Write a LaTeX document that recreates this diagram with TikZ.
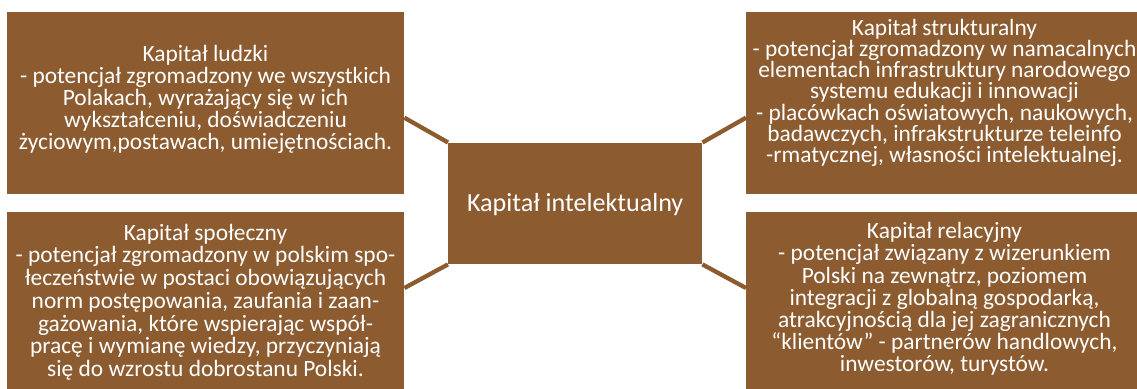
\documentclass[tikz,border=0pt]{standalone}
\usepackage{fontspec}
\setmainfont{Carlito}
\usetikzlibrary{calc}
\definecolor{kbrown}{RGB}{140,91,48}
\tikzset{
  box/.style={rectangle, fill=kbrown, draw=none, inner sep=0pt, anchor=north west},
  side/.style={text=white, align=center, inner sep=0pt, anchor=north,
    font={\fontsize{23.4pt}{#1}\selectfont\lineskiplimit=-100pt\lineskip=0pt}},
  side/.default=22.1pt,
  link/.style={draw=kbrown, line width=4.3pt},
}
\begin{document}
\begin{tikzpicture}[x=1pt,y=-1pt]
\useasboundingbox (0,0) rectangle (1137,388);
\clip (0,0) rectangle (1137,388);
% boxes
\node[box, minimum width=397pt, minimum height=182pt] (tl) at (7,12) {};
\node[box, minimum width=397pt, minimum height=182pt] (bl) at (7,212) {};
\node[box, minimum width=397pt, minimum height=182pt] (tr) at (746,12) {};
\node[box, minimum width=397pt, minimum height=182pt] (br) at (746,212) {};
\node[box, minimum width=254pt, minimum height=121.5pt] (ci) at (448,142.5) {};
% connectors
\draw[link] ($(tl.north east)+(0,105.7)$) -- (ci.north west);
\draw[link] ($(bl.north east)+(0,76)$) -- (ci.south west);
\draw[link] ($(tr.north west)+(0,105.7)$) -- (ci.north east);
\draw[link] ($(br.north west)+(0,76)$) -- (ci.south east);
% texts
\node[text=white, inner sep=0pt, font={\fontsize{26.1pt}{30pt}\selectfont}] (cit) at ($(ci.center)+(0,1.5)$) {Kapitał intelektualny};
\node[side=22pt] (tlt) at (205.5,41.5) {\rule{0pt}{20pt}Kapitał ludzki\\
- potencjał zgromadzony we wszystkich\\
Polakach, wyrażający się w ich\\
wykształceniu, doświadczeniu\\
życiowym,postawach, umiejętnościach.};
\node[side=21.2pt] (trt) at (944.5,15) {\rule{0pt}{20pt}Kapitał strukturalny\\
- potencjał zgromadzony w namacalnych\\
elementach infrastruktury narodowego\\
systemu edukacji i innowacji\\
- placówkach oświatowych, naukowych,\\
badawczych, infrakstrukturze teleinfo\\
-rmatycznej, własności intelektualnej.};
\node[side=22.7pt] (blt) at (205.5,220) {\rule{0pt}{20pt}Kapitał społeczny\\
- potencjał zgromadzony w polskim spo-\\
łeczeństwie w postaci obowiązujących\\
norm postępowania, zaufania i zaan-\\
gażowania, które wspierając współ-\\
pracę i wymianę wiedzy, przyczyniają\\
się do wzrostu dobrostanu Polski.};
\node[side=22.2pt] (brt) at (944.5,218.5) {\rule{0pt}{20pt}Kapitał relacyjny\\
- potencjał związany z wizerunkiem\\
Polski na zewnątrz, poziomem\\
integracji z globalną gospodarką,\\
atrakcyjnością dla jej zagranicznych\\
“klientów” - partnerów handlowych,\\
inwestorów, turystów.};
\end{tikzpicture}
\end{document}
